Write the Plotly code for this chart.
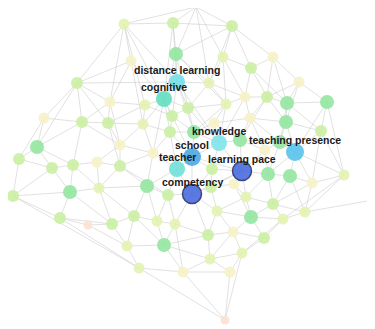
import plotly.graph_objects as go

# node positions (pixel-ish layout coordinates)
node_x = [124, 173, 196, 232, 176, 131, 223, 251, 273, 177,
          209, 299, 77, 164, 110, 145, 188, 226, 245, 267,
          287, 327, 44, 82, 108, 143, 172, 214, 250, 286,
          170, 194, 321, 37, 120, 153, 219, 240, 280, 295,
          265, 19, 52, 73, 97, 120, 192, 177, 212, 242,
          268, 290, 344, 312, 13, 70, 99, 147, 168, 192,
          211, 234, 246, 273, 305, 217, 251, 283, 60, 88,
          112, 134, 157, 175, 208, 233, 264, 127, 164, 210,
          242, 139, 183, 230, 225, 390]
node_y = [24, 23, 7, 26, 54, 61, 57, 68, 57, 82,
          83, 82, 83, 99, 102, 105, 108, 104, 97, 97,
          103, 102, 118, 122, 123, 124, 116, 123, 118, 122,
          132, 132, 131, 147, 145, 153, 143, 140, 142, 152,
          150, 159, 168, 165, 162, 166, 157, 169, 169, 171,
          174, 176, 175, 183, 196, 192, 188, 186, 195, 194,
          187, 184, 197, 204, 212, 211, 217, 219, 218, 225,
          224, 216, 221, 224, 235, 232, 238, 246, 245, 259,
          253, 268, 272, 272, 320, 197]
# importance class of each node (0 = weakest, 7 = strongest)
node_tier = [2, 3, 3, 3, 4, 1, 2, 3, 1, 5,
             2, 1, 3, 5, 1, 2, 3, 2, 1, 3,
             4, 4, 1, 3, 3, 2, 3, 1, 1, 4,
             3, 4, 3, 4, 1, 1, 5, 4, 4, 6,
             1, 3, 3, 3, 1, 3, 6, 5, 3, 7,
             4, 4, 2, 1, 3, 4, 2, 4, 3, 7,
             3, 1, 2, 3, 2, 2, 4, 2, 3, 0,
             3, 3, 2, 2, 3, 1, 3, 2, 4, 2,
             2, 2, 1, 1, 0, 1]
labels = {9: 'distance learning', 13: 'cognitive', 36: 'knowledge',
          39: 'teaching presence', 46: 'school', 47: 'teacher',
          49: 'learning pace', 59: 'competency'}

edges = [
    (0, 1), (0, 2), (0, 5), (0, 12), (0, 14), (0, 15), (0, 13), (0, 9),
    (1, 2), (1, 4), (1, 9), (1, 13), (1, 3),
    (2, 3), (2, 4), (2, 6), (2, 10),
    (3, 6), (3, 7), (3, 8), (3, 4), (3, 10),
    (4, 9), (4, 10), (4, 13), (4, 16), (4, 17),
    (5, 12), (5, 14), (5, 13), (5, 25),
    (6, 7), (6, 10), (6, 18), (6, 17),
    (7, 8), (7, 19), (7, 18), (7, 20),
    (8, 11), (8, 19), (8, 20),
    (9, 12), (9, 13), (9, 10), (9, 16), (9, 26), (9, 31), (9, 36),
    (10, 16), (10, 17), (10, 18),
    (11, 20), (11, 21), (11, 19), (11, 29),
    (12, 22), (12, 23), (12, 14), (12, 24), (12, 33),
    (13, 15), (13, 16), (13, 25), (13, 26), (13, 30), (13, 35), (13, 46),
    (14, 23), (14, 24), (14, 15), (14, 34),
    (15, 25), (15, 26), (15, 24),
    (16, 17), (16, 26), (16, 31), (16, 36),
    (17, 18), (17, 27), (17, 31), (17, 36),
    (18, 19), (18, 28), (18, 36),
    (19, 20), (19, 28), (19, 29), (19, 37),
    (20, 21), (20, 29), (20, 32), (20, 38),
    (21, 32), (21, 39), (21, 52),
    (22, 33), (22, 23), (22, 41),
    (23, 24), (23, 33), (23, 34), (23, 43),
    (24, 25), (24, 34), (24, 45),
    (25, 30), (25, 34), (25, 35),
    (26, 30), (26, 31),
    (27, 31), (27, 36), (27, 37), (27, 28),
    (28, 29), (28, 37), (28, 38), (28, 40),
    (29, 32), (29, 38), (29, 39),
    (30, 35), (30, 46), (30, 47), (30, 31),
    (31, 36), (31, 46),
    (32, 39), (32, 52), (32, 53),
    (33, 41), (33, 42), (33, 43),
    (34, 35), (34, 44), (34, 45),
    (35, 47), (35, 45), (35, 57),
    (36, 37), (36, 46), (36, 49), (36, 48),
    (37, 40), (37, 49), (37, 38),
    (38, 39), (38, 40), (38, 50),
    (39, 51), (39, 53), (39, 52), (39, 50),
    (40, 49), (40, 50),
    (41, 42), (41, 54),
    (42, 43), (42, 54), (42, 55),
    (43, 44), (43, 55), (43, 56),
    (44, 45), (44, 56),
    (45, 57), (45, 56), (45, 58),
    (46, 47), (46, 48), (46, 59), (46, 49),
    (47, 57), (47, 58), (47, 59),
    (48, 49), (48, 60), (48, 59),
    (49, 50), (49, 61), (49, 62), (49, 60), (49, 59),
    (50, 51), (50, 63), (50, 62),
    (51, 53), (51, 63), (51, 64),
    (52, 53), (52, 64), (52, 67),
    (53, 64), (53, 63),
    (54, 55), (54, 68), (54, 81),
    (55, 56), (55, 68), (55, 70),
    (56, 57), (56, 70), (56, 71),
    (57, 58), (57, 71), (57, 72),
    (58, 59), (58, 72), (58, 73),
    (59, 60), (59, 65), (59, 73), (59, 74),
    (60, 61), (60, 65),
    (61, 62), (61, 66),
    (62, 63), (62, 66), (62, 65),
    (63, 64), (63, 66), (63, 67),
    (64, 67), (64, 85),
    (65, 66), (65, 74), (65, 75),
    (66, 67), (66, 75), (66, 76),
    (67, 76), (67, 80),
    (68, 69), (68, 70), (68, 81),
    (69, 70), (69, 77),
    (70, 71), (70, 77),
    (71, 72), (71, 77), (71, 78),
    (72, 73), (72, 78),
    (73, 74), (73, 78), (73, 82),
    (74, 75), (74, 79), (74, 78),
    (75, 76), (75, 79), (75, 80),
    (76, 80),
    (77, 78), (77, 81),
    (78, 82), (78, 79),
    (79, 80), (79, 83), (79, 82),
    (80, 83), (80, 84),
    (81, 82), (81, 84),
    (82, 83), (82, 84),
    (83, 84),
]

tier_color = ['#fbe2d2', '#f5f2c8', '#e3f3b2', '#cbf0a2', '#93e6a0',
              '#6fe0d8', '#58c2ec', '#4a6ddf']
tier_size = [9, 11, 11, 12, 14, 16, 18, 19]
special_color = {13: '#63dfc0', 46: '#4aaae6', 36: '#80e4ea', 9: '#74dfe8'}

edge_x, edge_y = [], []
for a, b in edges:
    edge_x += [node_x[a], node_x[b], None]
    edge_y += [node_y[a], node_y[b], None]

fig = go.Figure()
fig.add_trace(go.Scatter(x=edge_x, y=edge_y, mode='lines',
                         line=dict(color='rgba(200,200,200,0.55)', width=1),
                         hoverinfo='skip'))

# draw weak nodes first so the important ones sit on top
order = sorted(range(len(node_x)), key=lambda i: node_tier[i])
fig.add_trace(go.Scatter(
    x=[node_x[i] for i in order],
    y=[node_y[i] for i in order],
    mode='markers',
    cliponaxis=False,
    marker=dict(
        size=[tier_size[node_tier[i]] for i in order],
        color=[special_color.get(i, tier_color[node_tier[i]]) for i in order],
        opacity=0.9,
        line=dict(color=['#26346e' if node_tier[i] == 7 else 'rgba(0,0,0,0)' for i in order],
                  width=[1.5 if node_tier[i] == 7 else 0 for i in order]),
    ),
    hoverinfo='skip'))

for i, name in labels.items():
    fig.add_annotation(x=node_x[i], y=node_y[i], text='<b>%s</b>' % name,
                       showarrow=False, yshift=12,
                       font=dict(family='Liberation Sans, Arial', size=10.5, color='#1a1a1a'))

# page body has an 8px margin, so the plot area is shrunk and the ranges start at 8
fig.update_layout(width=367, height=321, margin=dict(l=0, r=0, t=0, b=0),
                  paper_bgcolor='white', plot_bgcolor='white', showlegend=False)
fig.update_xaxes(range=[8, 375], visible=False)
fig.update_yaxes(range=[329, 8], visible=False)

fig.write_html("out.html")
